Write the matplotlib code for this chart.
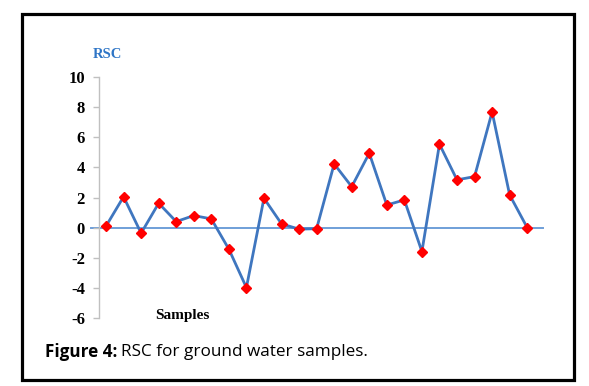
import matplotlib
matplotlib.use("Agg")
import matplotlib.pyplot as plt
from matplotlib.patches import Rectangle

samples = list(range(1, 26))
rsc = [0.1, 2.05, -0.37, 1.62, 0.4, 0.8, 0.58, -1.43, -3.98, 1.95, 0.25, -0.1,
       -0.07, 4.23, 2.72, 4.94, 1.5, 1.84, -1.59, 5.54, 3.17, 3.39, 7.68, 2.17, 0.0]
yticks = [-6, -4, -2, 0, 2, 4, 6, 8, 10]

W, H = 589, 386
fig = plt.figure(figsize=(W / 100, H / 100), dpi=100)

def fx(px):
    return px / W

def fy(py):
    return 1 - py / H

# outer border
fig.patches.append(Rectangle((fx(21.5), fy(380)), fx(574) - fx(21.5), fy(14) - fy(380),
                             transform=fig.transFigure, fill=False, lw=2.3, ec="black"))

left, right, top, bottom = 99, 543, 77, 318
ax = fig.add_axes([fx(left), fy(bottom), fx(right) - fx(left), fy(top) - fy(bottom)])

x = list(range(len(samples)))
ax.set_xlim(-0.4, 24.9)
ax.set_ylim(-6, 10)

ax.axhline(0, xmin=-0.019, xmax=1, color="#6f9fd8", lw=1.4, clip_on=False, zorder=1)
ax.plot(x, rsc, color="#3f76bf", lw=2.0, zorder=2)
ax.plot(x, rsc, linestyle="none", marker="D", color="#ff0000", markersize=5.6, zorder=3)

for s in ["top", "right", "bottom"]:
    ax.spines[s].set_visible(False)
ax.spines["left"].set_color("#c0c0c0")
ax.spines["left"].set_linewidth(1.0)
ax.set_xticks([])
ax.set_yticks(yticks)
ax.set_yticklabels([str(v) for v in yticks], fontfamily="Liberation Serif",
                   fontweight="bold", fontsize=12)
ax.tick_params(axis="y", direction="out", length=4, width=1, color="#c0c0c0", pad=6)

fig.text(fx(107), fy(55), "RSC", color="#2e75c6", fontfamily="Liberation Serif",
         fontweight="bold", fontsize=10.5, ha="center", va="center")
fig.text(fx(182), fy(316), "Samples", color="black", fontfamily="Liberation Serif",
         fontweight="bold", fontsize=11, ha="center", va="center")

t1 = fig.text(fx(45), fy(352), "Figure 4:", fontfamily="Open Sans", fontweight="bold",
              fontsize=12.3, ha="left", va="center")
fig.canvas.draw()
bb = t1.get_window_extent(renderer=fig.canvas.get_renderer())
fig.text((bb.x1 + 4) / W, fy(352), "RSC for ground water samples.", fontfamily="Open Sans",
         fontsize=12.3, ha="left", va="center")

fig.savefig("out.png", dpi=100)
